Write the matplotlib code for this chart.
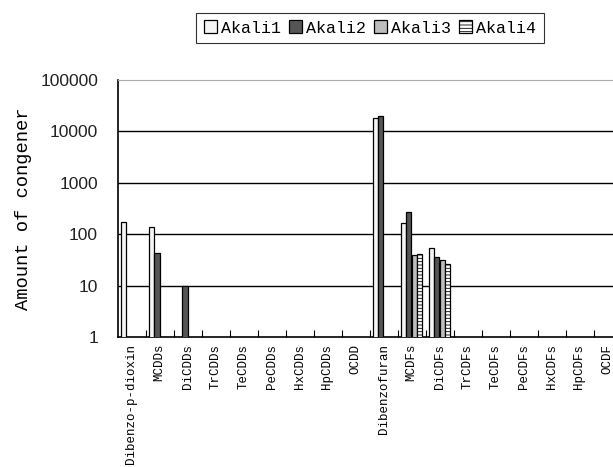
import numpy as np
import matplotlib
matplotlib.use("Agg")
import matplotlib.pyplot as plt
from matplotlib.ticker import FixedLocator, NullLocator, FixedFormatter

categories = ["Dibenzo-p-dioxin", "MCDDs", "DiCDDs", "TrCDDs", "TeCDDs", "PeCDDs",
              "HxCDDs", "HpCDDs", "OCDD", "Dibenzofuran", "MCDFs", "DiCDFs",
              "TrCDFs", "TeCDFs", "PeCDFs", "HxCDFs", "HpCDFs", "OCDF"]
nan = np.nan
akali1 = [175, 140, nan, nan, nan, nan, nan, nan, nan, 18500, 163, 54, nan, nan, nan, nan, nan, nan]
akali2 = [nan, 44, 10, nan, nan, nan, nan, nan, nan, 20000, 270, 36.5, nan, nan, nan, nan, nan, nan]
akali3 = [nan, nan, nan, nan, nan, nan, nan, nan, nan, nan, 39, 31, nan, nan, nan, nan, nan, nan]
akali4 = [nan, nan, nan, nan, nan, nan, nan, nan, nan, nan, 42, 26.7, nan, nan, nan, nan, nan, nan]
series_names = ["Akali1", "Akali2", "Akali3", "Akali4"]
yticks = [1, 10, 100, 1000, 10000, 100000]
ytick_labels = ["1", "10", "100", "1000", "10000", "100000"]

plt.rcParams['hatch.linewidth'] = 0.6
mono = "Liberation Mono"
sans = "Liberation Sans"

W, H = 613, 467
fig = plt.figure(figsize=(W / 100, H / 100), dpi=100)
x0, x1 = 117.5, 117.5 + 28 * len(categories)
ytop, ybot = 80, 337
ax = fig.add_axes([x0 / W, 1 - ybot / H, (x1 - x0) / W, (ybot - ytop) / H])

styles = [
    dict(facecolor="#f5f5f5", hatch=None),
    dict(facecolor="#555555", hatch=None),
    dict(facecolor="#bdbdbd", hatch=None),
    dict(facecolor="white", hatch="-----"),
]
data = [akali1, akali2, akali3, akali4]
x = np.arange(len(categories))
bw = 0.19
handles = []
for k, (vals, st) in enumerate(zip(data, styles)):
    b = ax.bar(x + (k - 1.5) * bw, vals, width=bw, facecolor=st["facecolor"],
               hatch=st["hatch"], edgecolor="black", linewidth=0.9,
               label=series_names[k], zorder=3)
    handles.append(b)

ax.set_yscale("log")
ax.set_ylim(1, 100000)
ax.set_xlim(-0.5, len(categories) - 0.5)

for v in yticks[1:-1]:
    ax.axhline(v, color="black", linewidth=1.0, zorder=1)

ax.yaxis.set_major_locator(FixedLocator(yticks))
ax.yaxis.set_major_formatter(FixedFormatter(ytick_labels))
ax.yaxis.set_minor_locator(NullLocator())
ax.tick_params(axis="y", length=0, pad=14, labelsize=12.5)
for t in ax.get_yticklabels():
    t.set_fontfamily(sans)
    t.set_color("#222222")

ax.xaxis.set_major_locator(FixedLocator(np.arange(len(categories)) + 0.5))
ax.xaxis.set_major_formatter(FixedFormatter([""] * len(categories)))
ax.xaxis.set_minor_locator(FixedLocator(x))
ax.xaxis.set_minor_formatter(FixedFormatter(categories))
ax.tick_params(axis="x", which="major", direction="in", length=5, width=0.8)
ax.tick_params(axis="x", which="minor", length=0, pad=5, labelsize=9, labelrotation=90)
for t in ax.get_xticklabels(minor=True):
    t.set_fontfamily(mono)
    t.set_va("top")

ax.spines["top"].set_color("#aaaaaa")
ax.spines["right"].set_visible(False)
ax.spines["left"].set_linewidth(1.2)
ax.spines["bottom"].set_linewidth(1.2)

ax.set_ylabel("Amount of congener", fontfamily=mono, fontsize=13.5, labelpad=6)

leg = fig.legend(handles=handles, loc="center", bbox_to_anchor=(370 / W, 1 - 28 / H),
                 ncol=4, frameon=True, fancybox=False, edgecolor="black",
                 prop=dict(family=mono, size=12), handlelength=0.8, handleheight=0.8,
                 handletextpad=0.25, columnspacing=0.45, borderpad=0.45)
leg.get_frame().set_linewidth(0.8)

fig.savefig("out.png", dpi=100)
